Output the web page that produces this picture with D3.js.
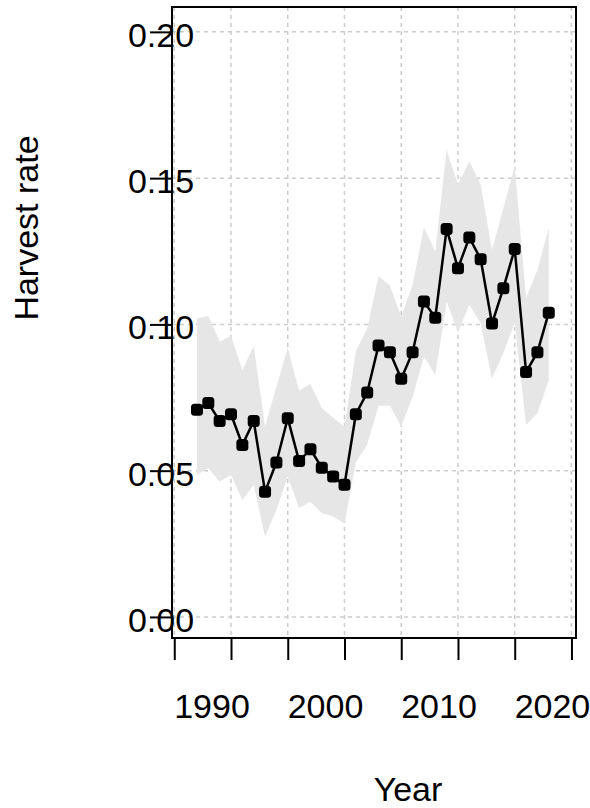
<!DOCTYPE html>
<html>
<head>
<meta charset="utf-8">
<script src="https://cdn.jsdelivr.net/npm/d3@7"></script>
<style>
  body { margin: 0; background: #fff; }
  text { font-family: "Liberation Sans", Arial, sans-serif; fill: #000; }
</style>
</head>
<body>
<svg id="chart" width="590" height="808"></svg>
<script>
// harvest rate estimate with its uncertainty band, one value per year
const years = d3.range(1987, 2019);
const rate = [0.0708, 0.0731, 0.0670, 0.0693, 0.0588, 0.0670, 0.0428, 0.0528,
              0.0679, 0.0533, 0.0573, 0.0510, 0.0480, 0.0452, 0.0693, 0.0767,
              0.0928, 0.0905, 0.0814, 0.0905, 0.1078, 0.1023, 0.1326, 0.1192,
              0.1297, 0.1223, 0.1003, 0.1124, 0.1258, 0.0837, 0.0905, 0.1040];
const upper = [0.1019, 0.1030, 0.0941, 0.0961, 0.0844, 0.0926, 0.0651, 0.0787,
               0.0919, 0.0774, 0.0796, 0.0714, 0.0681, 0.0650, 0.0907, 0.0987,
               0.1165, 0.1133, 0.1027, 0.1135, 0.1332, 0.1249, 0.1597, 0.1477,
               0.1557, 0.1477, 0.1255, 0.1397, 0.1540, 0.1090, 0.1186, 0.1331];
const lower = [0.0485, 0.0508, 0.0463, 0.0485, 0.0400, 0.0451, 0.0275, 0.0366,
               0.0480, 0.0372, 0.0394, 0.0355, 0.0343, 0.0319, 0.0529, 0.0589,
               0.0722, 0.0722, 0.0651, 0.0753, 0.0890, 0.0827, 0.1078, 0.0972,
               0.1067, 0.1004, 0.0814, 0.0902, 0.1006, 0.0656, 0.0696, 0.0810];
const xTicks = [1985, 1990, 1995, 2000, 2005, 2010, 2015, 2020];
const xLabels = [1990, 2000, 2010, 2020];
const yTicks = [0, 0.05, 0.10, 0.15, 0.20];

const data = years.map((y, i) => ({year: y, v: rate[i], lo: lower[i], hi: upper[i]}));

const svg = d3.select("#chart"),
    margin = {top: 7, right: 14, bottom: 170, left: 172},
    width = +svg.attr("width"),
    height = +svg.attr("height");

const x = d3.scaleLinear()
    .domain([1984.8, 2020.4])
    .range([margin.left, width - margin.right]);

const y = d3.scaleLinear()
    .domain([-0.0072, 0.2085])
    .range([height - margin.bottom, margin.top]);

// dashed grid
const grid = svg.append("g")
    .attr("stroke", "#cccccc")
    .attr("stroke-width", 1.5)
    .attr("stroke-dasharray", "4,4");
grid.selectAll("line.v")
    .data(xTicks)
    .enter().append("line")
    .attr("x1", d => x(d)).attr("x2", d => x(d))
    .attr("y1", y.range()[1]).attr("y2", y.range()[0]);
grid.selectAll("line.h")
    .data(yTicks)
    .enter().append("line")
    .attr("y1", d => y(d)).attr("y2", d => y(d))
    .attr("x1", x.range()[0]).attr("x2", x.range()[1]);

// uncertainty band
svg.append("path")
    .datum(data)
    .attr("fill", "#e6e6e6")
    .attr("d", d3.area()
        .x(d => x(d.year))
        .y0(d => y(d.lo))
        .y1(d => y(d.hi)));

// estimate line + points
svg.append("path")
    .datum(data)
    .attr("fill", "none")
    .attr("stroke", "#000")
    .attr("stroke-width", 2.5)
    .attr("d", d3.line().x(d => x(d.year)).y(d => y(d.v)));

svg.append("g")
    .selectAll("rect")
    .data(data)
    .enter().append("rect")
    .attr("x", d => x(d.year) - 6)
    .attr("y", d => y(d.v) - 6)
    .attr("width", 12)
    .attr("height", 12)
    .attr("rx", 3.5)
    .attr("fill", "#000");

// frame
svg.append("rect")
    .attr("x", x.range()[0])
    .attr("y", y.range()[1])
    .attr("width", x.range()[1] - x.range()[0])
    .attr("height", y.range()[0] - y.range()[1])
    .attr("fill", "none")
    .attr("stroke", "#000")
    .attr("stroke-width", 2);

// x axis
const xAxis = svg.append("g")
    .attr("transform", "translate(0," + y.range()[0] + ")")
    .call(d3.axisBottom(x).tickValues(xTicks).tickSize(22).tickFormat(""));
xAxis.select(".domain").remove();
xAxis.selectAll(".tick line").attr("stroke", "#000").attr("stroke-width", 2);
svg.append("g")
    .selectAll("text")
    .data(xLabels)
    .enter().append("text")
    .attr("x", d => x(d) - 19)
    .attr("y", 718)
    .attr("text-anchor", "middle")
    .style("font-size", "34px")
    .text(d => d);

// y axis
const yAxis = svg.append("g")
    .attr("transform", "translate(" + x.range()[0] + ",0)")
    .call(d3.axisLeft(y).tickValues(yTicks).tickSize(22).tickFormat(""));
yAxis.select(".domain").remove();
yAxis.selectAll(".tick line").attr("stroke", "#000").attr("stroke-width", 2);
svg.append("g")
    .selectAll("text")
    .data(yTicks)
    .enter().append("text")
    .attr("x", x.range()[0] - 11)
    .attr("y", d => y(d) + 15)
    .attr("text-anchor", "middle")
    .style("font-size", "34px")
    .text(d => d3.format(".2f")(d));

// axis titles
svg.append("text")
    .attr("x", 408)
    .attr("y", 801)
    .attr("text-anchor", "middle")
    .style("font-size", "34px")
    .text("Year");

svg.append("text")
    .attr("transform", "translate(38,228) rotate(-90)")
    .attr("text-anchor", "middle")
    .style("font-size", "34px")
    .text("Harvest rate");
</script>
</body>
</html>
